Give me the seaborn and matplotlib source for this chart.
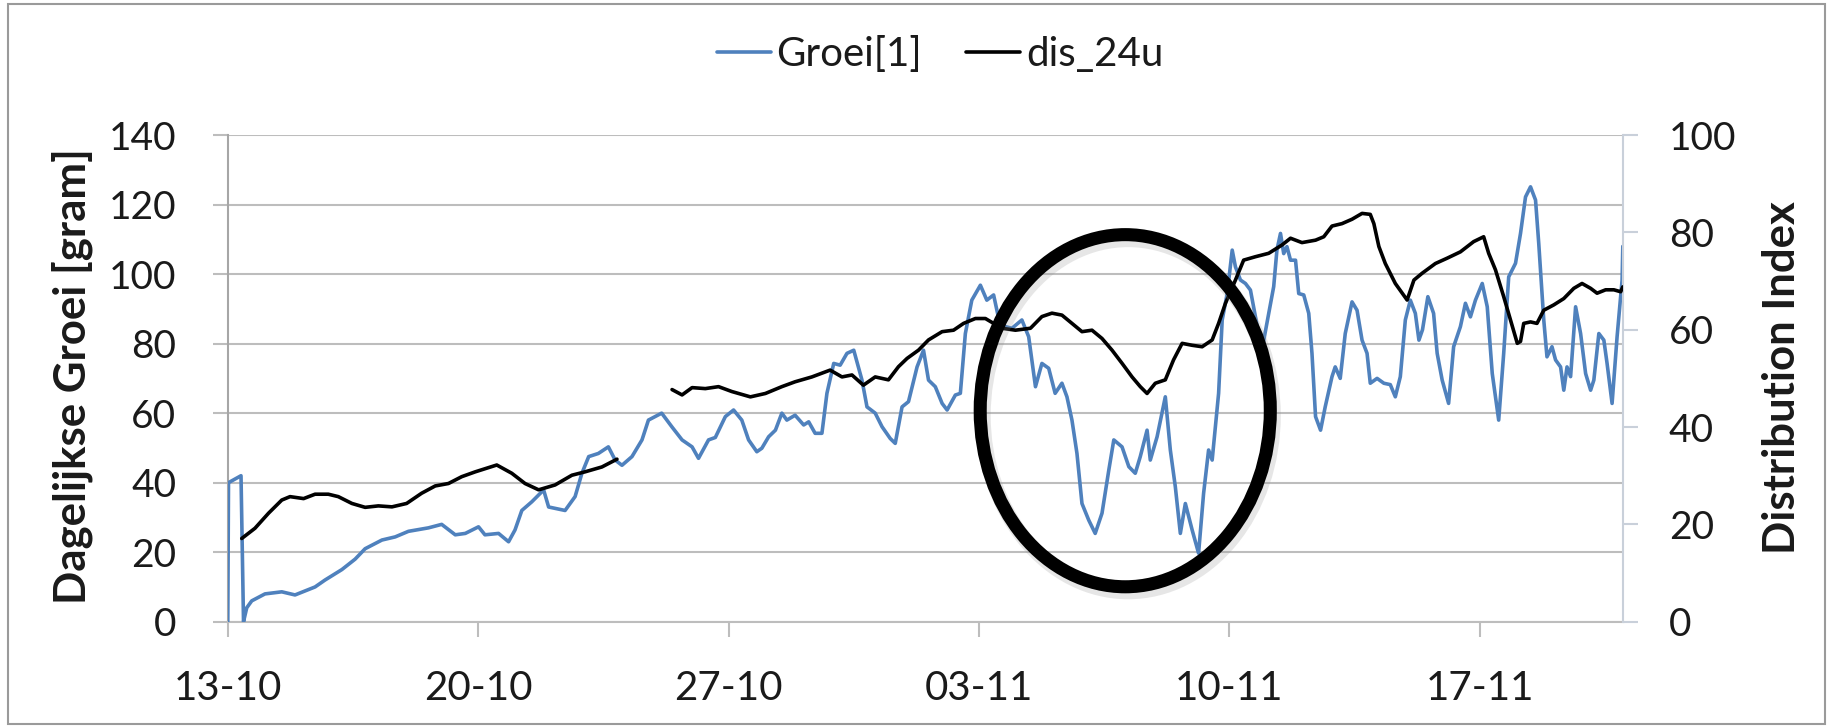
"""
Dagelijkse groei vs. distribution index (dis_24u), 13-10 .. 21-11.

Two y-axes: growth in gram on the left, distribution index on the right.
The dip around 07-11 is circled.
"""
import matplotlib

matplotlib.use("Agg")
import matplotlib.pyplot as plt
import pandas as pd
import seaborn as sns
from matplotlib.patches import Ellipse, Rectangle

# --- data (x in days since 13-10) -------------------------------------------
groei_days = [
    0.00, 0.02, 0.37, 0.44, 0.53, 0.67, 1.04, 1.51, 1.88, 2.44, 2.72, 3.19,
    3.56, 3.84, 4.31, 4.68, 5.05, 5.61, 5.98, 6.36, 6.64, 7.01, 7.19, 7.57,
    7.85, 8.03, 8.22, 8.50, 8.83, 8.97, 9.43, 9.71, 9.90, 10.09, 10.36, 10.64,
    10.83, 11.02, 11.30, 11.58, 11.76, 12.13, 12.42, 12.70, 12.98, 13.16,
    13.44, 13.63, 13.91, 14.14, 14.37, 14.56, 14.79, 14.93, 15.12, 15.31,
    15.49, 15.63, 15.86, 16.10, 16.24, 16.42, 16.61, 16.75, 16.94, 17.12,
    17.31, 17.50, 17.73, 17.87, 18.10, 18.29, 18.52, 18.66, 18.85, 19.03,
    19.27, 19.45, 19.59, 19.78, 19.97, 20.11, 20.34, 20.48, 20.62, 20.80,
    21.04, 21.22, 21.41, 21.60, 21.74, 21.92, 22.20, 22.39, 22.58, 22.76,
    22.95, 23.13, 23.32, 23.46, 23.60, 23.74, 23.88, 24.07, 24.25, 24.44,
    24.63, 24.77, 25.00, 25.19, 25.37, 25.51, 25.70, 25.79, 25.98, 26.21,
    26.35, 26.49, 26.63, 26.77, 26.96, 27.14, 27.28, 27.42, 27.52, 27.70,
    27.80, 27.94, 28.08, 28.17, 28.31, 28.45, 28.59, 28.73, 28.91, 29.10,
    29.24, 29.33, 29.43, 29.52, 29.61, 29.71, 29.85, 29.94, 30.08, 30.22,
    30.31, 30.41, 30.55, 30.68, 30.87, 30.96, 31.10, 31.24, 31.43, 31.57,
    31.71, 31.85, 31.94, 32.13, 32.32, 32.50, 32.64, 32.78, 32.92, 33.06,
    33.20, 33.30, 33.40, 33.55, 33.71, 33.81, 33.95, 34.13, 34.27, 34.46,
    34.60, 34.74, 34.88, 35.07, 35.21, 35.35, 35.53, 35.67, 35.81, 36.00,
    36.14, 36.28, 36.42, 36.56, 36.65, 36.79, 36.88, 37.02, 37.12, 37.26,
    37.35, 37.44, 37.54, 37.68, 37.82, 37.96, 38.10, 38.19, 38.33, 38.47,
    38.56, 38.70, 38.84, 38.98, 39.00,
]
groei_gram = [
    0, 40, 42, 0, 4, 6, 8, 8.6, 7.7, 10, 12, 15,
    18, 21, 23.5, 24.4, 26, 27, 28, 25, 25.4, 27.3, 25, 25.4,
    23, 26.4, 32, 34.5, 37.9, 33, 32, 36, 42.7, 47.5, 48.4, 50.3,
    46.5, 45, 47.5, 52.3, 58, 60, 56, 52.3, 50.3, 47,
    52.3, 53, 59, 60.9, 58, 52.3, 48.9, 49.9, 53.2, 55.1,
    60, 58, 59.4, 56.6, 57.5, 54.2, 54.2, 65.7, 74.3, 73.8,
    77.2, 78.1, 69.5, 61.8, 60, 56.1, 52.7, 51.3, 61.8, 63.3,
    73.3, 78.1, 69.5, 67.6, 62.8, 60.9, 65.2, 65.7, 82.9, 92.5,
    96.8, 92.5, 94, 84.9, 84.9, 84.4, 86.8, 82, 67.6, 74.3,
    72.9, 65.7, 68.6, 64.7, 58, 48.4, 34, 29.2, 25.4, 31.2,
    43.6, 52.3, 50.3, 44.6, 42.7, 47.5, 55.1, 46.5, 53.2, 64.7,
    49.4, 38.8, 25.4, 34, 26.4, 19.7, 36.9, 49.4, 46.5, 65.7,
    86.8, 94.4, 106.9, 102.1, 98.3, 97.3, 95.4, 87.7, 78.1, 88.7,
    96.4, 106.9, 111.7, 105.9, 107.9, 104, 104, 94.4, 94, 88.7,
    77.2, 59, 55.1, 61.8, 70.5, 73.3, 70, 82.9, 92, 89.6,
    81, 77.2, 68.6, 70, 68.6, 68.2, 64.7, 70.5, 86.8, 92.5,
    88.7, 81, 84, 93.5, 88.7, 77.2, 69.5, 62.8, 79.1, 84.9,
    91.6, 87.7, 92.5, 97.3, 90.6, 71.4, 58, 77.2, 99.2, 103.1,
    111.7, 122.2, 125.1, 121.3, 108.8, 86.8, 76.2, 79.1, 75.3, 73.3,
    66.6, 73.3, 70.5, 90.6, 82.9, 71.4, 66.6, 69.5, 82.9, 81,
    74.3, 62.8, 82, 98.3, 108,
]

dis_days = [
    0.39, 0.76, 1.14, 1.51, 1.74, 2.12, 2.44, 2.81, 3.09, 3.47, 3.84, 4.21,
    4.59, 5.00, 5.42, 5.80, 6.17, 6.54, 6.92, 7.52, 7.94, 8.31, 8.69, 9.15,
    9.62, 9.99, 10.46, 10.88,
    12.42, 12.70, 12.98, 13.35, 13.72, 14.09, 14.61, 15.03, 15.49, 15.86,
    16.33, 16.84, 17.17, 17.45, 17.77, 18.10, 18.47, 18.75, 18.99, 19.31,
    19.59, 19.97, 20.29, 20.57, 20.90, 21.18, 21.64, 22.02, 22.44, 22.76,
    23.04, 23.32, 23.60, 23.88, 24.16, 24.44, 24.72, 25.00, 25.28, 25.51,
    25.70, 25.93, 26.21, 26.44, 26.68, 26.96, 27.24, 27.52, 27.70, 27.89,
    28.17, 28.40, 28.73, 29.10, 29.47, 29.71, 30.03, 30.41, 30.64, 30.87,
    31.15, 31.43, 31.71, 31.94, 32.04, 32.18, 32.36, 32.64, 32.97, 33.16,
    33.39, 33.76, 34.09, 34.46, 34.83, 35.11, 35.25, 35.44, 35.67, 35.86,
    36.05, 36.14, 36.23, 36.42, 36.60, 36.79, 37.07, 37.35, 37.63, 37.86,
    38.10, 38.28, 38.52, 38.75, 38.94, 39.00,
]
dis_index = [
    17.1, 19.2, 22.3, 25, 25.7, 25.3, 26.2, 26.2, 25.7, 24.3, 23.5, 23.8,
    23.6, 24.3, 26.4, 27.9, 28.4, 29.8, 30.8, 32.2, 30.5, 28.4, 27.1, 28.1,
    30.1, 30.8, 31.8, 33.4,
    47.7, 46.6, 48.1, 47.9, 48.3, 47.3, 46.2, 46.9, 48.3, 49.3,
    50.3, 51.7, 50.3, 50.7, 48.6, 50.3, 49.7, 52.4, 54.1, 55.8,
    57.9, 59.6, 59.9, 61.3, 62.3, 62.3, 60.3, 59.9, 60.3, 62.7,
    63.4, 63, 61.3, 59.6, 59.9, 58.2, 55.8, 53.1, 50.3, 48.3,
    46.9, 49, 49.7, 53.8, 57.2, 56.8, 56.5, 57.9, 61.3, 65.4,
    70.2, 74.3, 75, 75.7, 77.4, 78.8, 77.9, 78.4, 79.1, 81.3,
    81.8, 82.7, 83.9, 83.7, 81.8, 77.1, 73.6, 69.5, 66.1, 70.2,
    71.6, 73.6, 74.7, 76, 78.1, 79.1, 75.7, 72.3, 66.8, 62,
    57.2, 57.6, 61.3, 61.6, 61.3, 64, 65.1, 66.4, 68.5, 69.5,
    68.5, 67.5, 68.2, 68.2, 67.8, 68.8,
]
# the dis_24u series has a gap between 23-10 and 25-10
dis_segment = [0] * 28 + [1] * (len(dis_days) - 28)

week_ticks = [0, 7, 14, 21, 28, 35]
week_labels = ["13-10", "20-10", "27-10", "03-11", "10-11", "17-11"]
left_ticks = [0, 20, 40, 60, 80, 100, 120, 140]
right_ticks = [0, 20, 40, 60, 80, 100]

BLUE = "#4f81bd"
GRID = "#bdbdbd"
TEXT = "#1a1a1a"

groei = pd.DataFrame({"dag": groei_days, "groei": groei_gram})
dis = pd.DataFrame({"dag": dis_days, "dis": dis_index, "seg": dis_segment})

sns.set_theme(style="white")
plt.rcParams["font.family"] = ["Lato", "DejaVu Sans"]

fig = plt.figure(figsize=(18.31, 7.28), dpi=100)
ax = fig.add_axes([0.1244, 0.1460, 0.7619, 0.6685])
ax2 = ax.twinx()

sns.lineplot(data=groei, x="dag", y="groei", ax=ax, color=BLUE, lw=2.6,
             label="Groei[1]", legend=False, zorder=3)
sns.lineplot(data=dis, x="dag", y="dis", units="seg", estimator=None, ax=ax2,
             color="black", lw=2.6, label="dis_24u", legend=False, zorder=3)

ax.set_xlim(0, 39)
ax.set_ylim(0, 140)
ax2.set_ylim(0, 100)
ax.set_xticks(week_ticks, week_labels)
ax.set_yticks(left_ticks)
ax2.set_yticks(right_ticks)
ax.set_xlabel("")
ax.set_ylabel("")
ax2.set_ylabel("")

ax.yaxis.grid(True, color=GRID, lw=1.5)
ax.xaxis.grid(False)
ax2.grid(False)
ax.set_axisbelow(True)

for a in (ax, ax2):
    for side in ("top", "right", "left", "bottom"):
        a.spines[side].set_visible(False)
ax.spines["left"].set_visible(True)
ax.spines["left"].set_color("#a6a6a6")
ax.spines["left"].set_linewidth(1.5)
ax.spines["bottom"].set_visible(True)
ax.spines["bottom"].set_color(GRID)
ax.spines["bottom"].set_linewidth(1.5)
ax2.spines["right"].set_visible(True)
ax2.spines["right"].set_color("#c9d0da")
ax2.spines["right"].set_linewidth(1.5)

ax.tick_params(axis="y", left=True, direction="out", length=11, width=1.5,
               color=GRID, pad=26, labelsize=28, labelcolor=TEXT)
ax.tick_params(axis="x", bottom=True, direction="out", length=11, width=1.5,
               color=GRID, pad=24, labelsize=29, labelcolor=TEXT)
ax2.tick_params(axis="y", right=True, direction="out", length=11, width=1.5,
                color="#c9d0da", pad=22, labelsize=28, labelcolor=TEXT)

fig.text(0.0395, 0.484, "Dagelijkse Groei [gram]", rotation=90, ha="center",
         va="center", fontsize=31.5, fontweight="bold", color=TEXT)
fig.text(0.9735, 0.481, "Distribution Index", rotation=90, ha="center",
         va="center", fontsize=31.5, fontweight="bold", color=TEXT)

# circle around the dip, with a soft shadow
ellipse_center = (25.09, 60.7)
ellipse_size = (8.11, 101.3)
shadow = Ellipse((ellipse_center[0] + 0.08, ellipse_center[1] - 1.4), *ellipse_size,
                 transform=ax.transData, fill=False, ec="#909090", lw=11,
                 alpha=0.22, zorder=9, clip_on=False)
ax2.add_patch(shadow)
ring = Ellipse(ellipse_center, *ellipse_size, transform=ax.transData,
               fill=False, ec="black", lw=9.4, zorder=10, clip_on=False)
ax2.add_patch(ring)

# one legend entry per series (the split black line carries the label twice)
h1, l1 = ax.get_legend_handles_labels()
h2, l2 = ax2.get_legend_handles_labels()
entries = dict(zip(l1 + l2, h1 + h2))
fig.legend(list(entries.values()), list(entries.keys()), loc="center",
           bbox_to_anchor=(0.5135, 0.9245), ncol=2, frameon=False, fontsize=29,
           handlelength=1.34, handletextpad=0.15, columnspacing=1.1,
           labelcolor=TEXT)

# chart-area border
fig.patches.append(Rectangle((0.0044, 0.0055), 0.9923, 0.989, transform=fig.transFigure,
                             fill=False, ec="#9a9a9a", lw=1.5))

fig.savefig("out.png", dpi=100)
plt.close(fig)
